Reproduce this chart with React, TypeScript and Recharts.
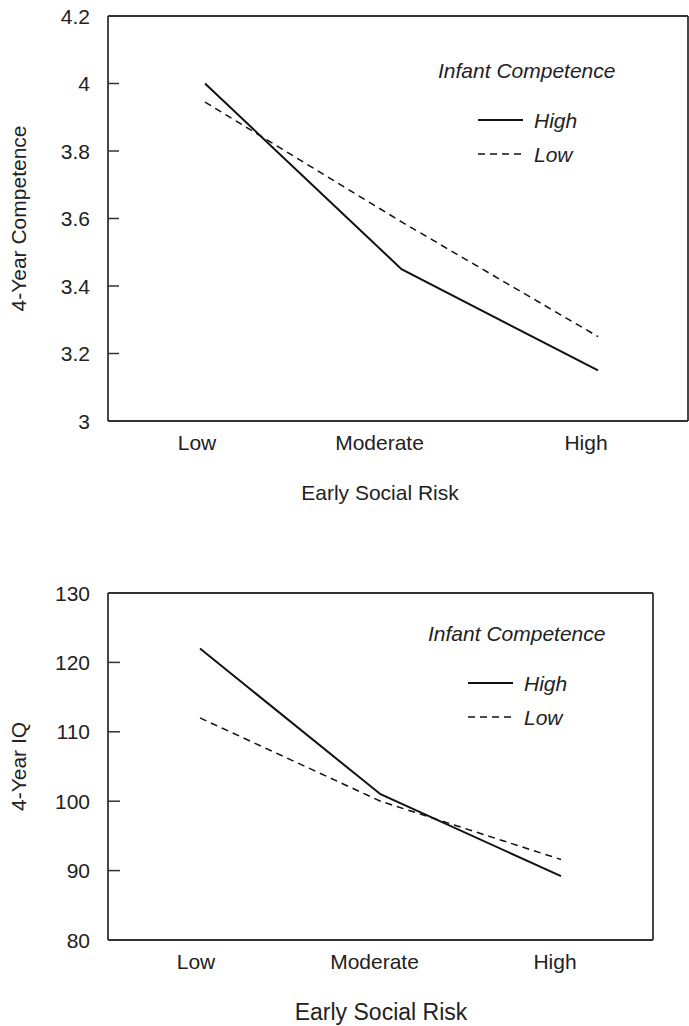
import { LineChart, Line, XAxis, YAxis, Legend, Label } from 'recharts';

const categories = ['Low', 'Moderate', 'High'];
const competenceHigh = [4.0, 3.45, 3.15];
const competenceLow = [3.945, 3.59, 3.25];
const competenceTicks = [3, 3.2, 3.4, 3.6, 3.8, 4, 4.2];
const iqHigh = [122, 101, 89.2];
const iqLow = [112, 100, 91.6];
const iqTicks = [80, 90, 100, 110, 120, 130];
const legendTitle = 'Infant Competence';
const seriesNames = ['High', 'Low'];

const FONT = '"Liberation Sans", Arial, Helvetica, sans-serif';
const TEXT = '#222';
const INK = '#111';
const FRAME = '#333';
const DASH = '7 5';
const FS = 21;

interface PanelProps {
  high: number[];
  low: number[];
  ticks: number[];
  yTitle: string;
  top: number;
  height: number;
  plotTop: number;
  plotBottom: number;
  plotRight: number;
  pad: { left: number; right: number };
  labelDx: number[];
  tickLen: number;
  xTitleX: number;
  xTitleSize: number;
  legendX: number;
  legendY: number;
}

const PLOT_LEFT = 108;
const AXIS_W = 60;

function Panel(p: PanelProps) {
  const data = categories.map((risk, i) => ({ risk, high: p.high[i], low: p.low[i] }));
  const lo = p.ticks[0];
  const hi = p.ticks[p.ticks.length - 1];
  const frame = { stroke: FRAME, strokeWidth: 1.8 };

  const yTick = (props: any) => {
    const { y, payload } = props;
    return (
      <g>
        <line x1={PLOT_LEFT} x2={PLOT_LEFT + p.tickLen} y1={y} y2={y} stroke={FRAME} strokeWidth={1.5} />
        <text x={PLOT_LEFT - 18} y={y} textAnchor="end" dominantBaseline="central"
          fontFamily={FONT} fontSize={FS} fill={TEXT}>
          {String(payload.value)}
        </text>
      </g>
    );
  };

  const xTick = (props: any) => {
    const { x, payload, index } = props;
    return (
      <text x={x + (p.labelDx[index] || 0)} y={p.plotBottom + 21} textAnchor="middle"
        dominantBaseline="central" fontFamily={FONT} fontSize={FS} fill={TEXT}>
        {payload.value}
      </text>
    );
  };

  const legend = () => (
    <svg width={260} height={130} style={{ overflow: 'visible' }}>
      <text x={8} y={20} dominantBaseline="central" fontFamily={FONT} fontSize={FS}
        fontStyle="italic" fill={TEXT}>{legendTitle}</text>
      <line x1={48} x2={93} y1={70} y2={70} stroke={INK} strokeWidth={2} />
      <text x={104} y={70} dominantBaseline="central" fontFamily={FONT} fontSize={FS}
        fontStyle="italic" fill={TEXT}>{seriesNames[0]}</text>
      <line x1={48} x2={93} y1={104} y2={104} stroke={INK} strokeWidth={1.5} strokeDasharray={DASH} />
      <text x={104} y={104} dominantBaseline="central" fontFamily={FONT} fontSize={FS}
        fontStyle="italic" fill={TEXT}>{seriesNames[1]}</text>
    </svg>
  );

  const midY = (p.plotTop + p.plotBottom) / 2;

  return (
    <div style={{ position: 'absolute', left: 0, top: p.top, width: 689, height: p.height, overflow: 'hidden' }}>
      <LineChart
        width={689}
        height={p.height}
        data={data}
        margin={{
          top: p.plotTop - 1,
          right: 689 - p.plotRight - 1,
          left: PLOT_LEFT - AXIS_W,
          bottom: p.height - p.plotBottom - 30,
        }}
      >
        <XAxis dataKey="risk" padding={p.pad} height={30} axisLine={frame} tickLine={false}
          tickSize={0} tickMargin={0} tick={xTick} interval={0}>
          <Label content={() => (
            <text x={p.xTitleX} y={492} textAnchor="middle" dominantBaseline="central"
              fontFamily={FONT} fontSize={p.xTitleSize} fill={TEXT}>Early Social Risk</text>
          )} />
        </XAxis>
        {/* frame: top and right edges drawn as bare axes */}
        <XAxis xAxisId="top" orientation="top" dataKey="risk" padding={p.pad} height={1}
          axisLine={frame} tick={false} tickLine={false} />
        <YAxis width={AXIS_W} domain={[lo, hi]} ticks={p.ticks} axisLine={frame} tickLine={false}
          tickSize={0} tickMargin={0} tick={yTick} interval={0} allowDataOverflow>
          <Label content={() => (
            <text x={18} y={midY} textAnchor="middle" dominantBaseline="central"
              transform={`rotate(-90, 18, ${midY})`} fontFamily={FONT} fontSize={FS} fill={TEXT}>
              {p.yTitle}
            </text>
          )} />
        </YAxis>
        <YAxis yAxisId="right" orientation="right" width={1} domain={[lo, hi]}
          axisLine={frame} tick={false} tickLine={false} />
        <Legend layout="vertical" verticalAlign="middle" align="center" content={legend}
          wrapperStyle={{ left: p.legendX, top: p.legendY, width: 260, height: 130 }} />
        <Line dataKey="high" stroke={INK} strokeWidth={2} dot={false} isAnimationActive={false} />
        <Line dataKey="low" stroke={INK} strokeWidth={1.5} strokeDasharray={DASH} dot={false} isAnimationActive={false} />
      </LineChart>
    </div>
  );
}

export default function App() {
  return (
    <div style={{ position: 'absolute', left: 0, top: 0, width: 689, height: 1026, background: '#fff' }}>
      <Panel
        high={competenceHigh}
        low={competenceLow}
        ticks={competenceTicks}
        yTitle="4-Year Competence"
        top={0}
        height={510}
        plotTop={16}
        plotBottom={421}
        plotRight={688}
        pad={{ left: 97, right: 90 }}
        labelDx={[-8, -22, -12]}
        tickLen={11}
        xTitleX={380}
        xTitleSize={FS}
        legendX={430}
        legendY={50}
      />
      <Panel
        high={iqHigh}
        low={iqLow}
        ticks={iqTicks}
        yTitle="4-Year IQ"
        top={520}
        height={506}
        plotTop={73}
        plotBottom={420}
        plotRight={653}
        pad={{ left: 92, right: 92 }}
        labelDx={[-4, -6, -6]}
        tickLen={12}
        xTitleX={381}
        xTitleSize={23}
        legendX={420}
        legendY={93}
      />
    </div>
  );
}
